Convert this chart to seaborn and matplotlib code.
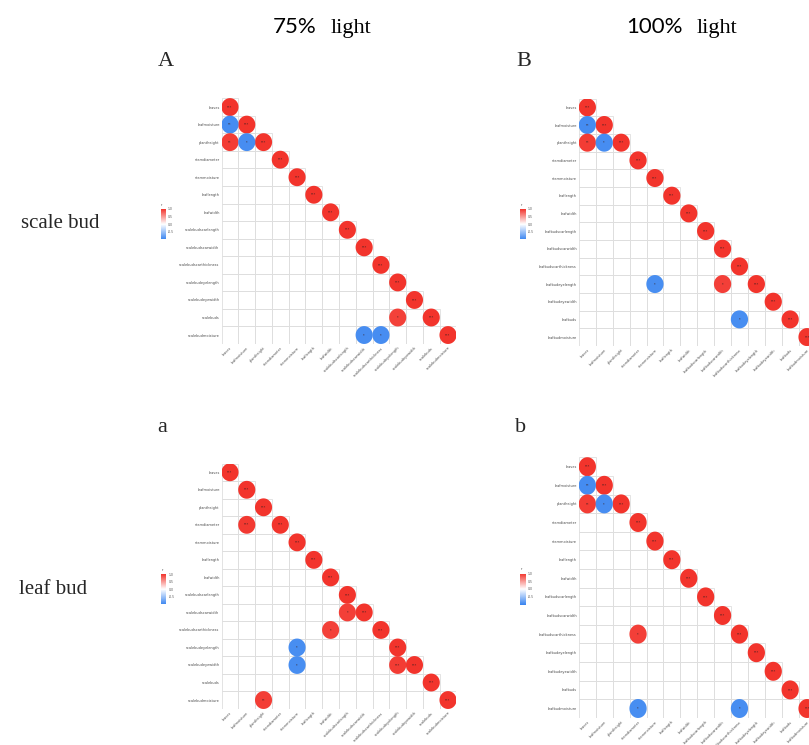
import numpy as np
import pandas as pd
import matplotlib
matplotlib.use("Agg")
import matplotlib.pyplot as plt
from matplotlib.colors import LinearSegmentedColormap, Normalize
from matplotlib.cm import ScalarMappable
from matplotlib.markers import MarkerStyle
from matplotlib.patches import Rectangle
from matplotlib.path import Path
import seaborn as sns

sns.set_theme(style="white")

# ---------------------------------------------------------------- data
common_traits = ["leaves", "leafmoisture", "plantheight", "stemdiameter",
                 "stemmoisture", "leaflength", "leafwidth"]
scale_traits = common_traits + ["scalebudscarlength", "scalebudscarwidth",
                                "scalebudscarthickness", "scalebudeyelength",
                                "scalebudeyewidth", "scalebuds", "scalebudmoisture"]
leaf_traits = common_traits + ["leafbudscarlength", "leafbudscarwidth",
                               "leafbudscarthickness", "leafbudeyelength",
                               "leafbudeyewidth", "leafbuds", "leafbudmoisture"]

# significant off-diagonal correlations: row index, column index, r, stars
A_rows = [1, 2, 2, 12, 13, 13]
A_cols = [0, 0, 1, 10, 8, 9]
A_r = [-0.95, 0.96, -0.94, 0.93, -0.94, -0.94]
A_sig = ["**", "**", "*", "*", "*", "*"]

B_rows = [1, 2, 2, 10, 10, 12]
B_cols = [0, 0, 1, 4, 8, 9]
B_r = [-0.95, 0.96, -0.94, -0.93, 0.94, -0.93]
B_sig = ["**", "**", "*", "*", "*", "*"]

a_rows = [3, 8, 9, 10, 11, 11, 13]
a_cols = [1, 7, 6, 4, 4, 10, 2]
a_r = [0.97, 0.94, 0.93, -0.93, -0.93, 0.96, 0.95]
a_sig = ["***", "*", "*", "*", "*", "***", "**"]

b_rows = [1, 2, 2, 9, 13, 13]
b_cols = [0, 0, 1, 3, 3, 9]
b_r = [-0.95, 0.96, -0.94, 0.94, -0.93, -0.93]
b_sig = ["**", "**", "*", "*", "*", "*"]

diag_r = 1.0
diag_sig = "***"

cbar_ticks = [-0.5, 0.0, 0.5, 1.0]
cbar_ticklabels = ["-0.5", "0.0", "0.5", "1.0"]

# ---------------------------------------------------------------- style
W, H, DPI = 809, 745, 100
cmap = LinearSegmentedColormap.from_list("rwb", ["#3c86f0", "#ffffff", "#f2342c"])
norm = Normalize(vmin=-1, vmax=1)
grid_color = "#dedede"
label_color = "#4a4a4a"
serif = ["Liberation Serif", "DejaVu Serif"]
sans = ["Lato", "DejaVu Sans"]

fig = plt.figure(figsize=(W / DPI, H / DPI), dpi=DPI)
fig.patch.set_facecolor("white")


def px_axes(left, top, right, bottom):
    return fig.add_axes([left / W, 1 - bottom / H, (right - left) / W, (bottom - top) / H])


def ellipse_marker(aspect):
    t = np.linspace(0, 2 * np.pi, 80)
    verts = np.column_stack([np.cos(t), aspect * np.sin(t)])
    return MarkerStyle(Path(verts, closed=True))


def corr_panel(box, traits, rows, cols, rvals, sigs, cbar_box):
    ax = px_axes(*box)
    n = len(traits)
    df = pd.DataFrame({
        "row": list(range(n)) + rows,
        "col": list(range(n)) + cols,
        "r": [diag_r] * n + rvals,
        "sig": [diag_sig] * n + sigs,
    })

    # lower-triangle cell grid
    for i in range(n):
        for j in range(i + 1):
            ax.add_patch(Rectangle((j - 0.5, i - 0.5), 1, 1, fill=False,
                                   edgecolor=grid_color, linewidth=0.6, zorder=1))

    cell_w = (box[2] - box[0]) / n
    cell_h = (box[3] - box[1]) / n
    aspect = cell_h / cell_w
    diam_pt = max(cell_w, cell_h) * 1.02 * 72 / DPI
    sns.scatterplot(data=df, x="col", y="row", hue="r", palette=cmap, hue_norm=norm,
                    marker=ellipse_marker(aspect), s=diam_pt ** 2, linewidth=0,
                    legend=False, ax=ax, zorder=3)
    for _, rec in df.iterrows():
        ax.text(rec["col"], rec["row"], rec["sig"], ha="center", va="center",
                fontsize=2.4, color="#3a2020", zorder=4)

    ax.set_xlim(-0.5, n - 0.5)
    ax.set_ylim(n - 0.5, -0.5)
    ax.set_xlabel("")
    ax.set_ylabel("")
    for s in ax.spines.values():
        s.set_visible(False)
    ax.set_facecolor("none")
    ax.set_yticks(range(n))
    ax.set_yticklabels(traits, fontsize=2.5, color=label_color)
    ax.set_xticks(range(n))
    ax.set_xticklabels(traits, fontsize=2.5, color=label_color, rotation=45,
                       ha="right", rotation_mode="anchor")
    ax.tick_params(axis="both", length=0, pad=1.5)

    # colour bar
    cl, ct, cw, ch = cbar_box
    cax = px_axes(cl, ct, cl + cw, ct + ch)
    cb = fig.colorbar(ScalarMappable(norm=norm, cmap=cmap), cax=cax)
    cb.outline.set_visible(False)
    cb.set_ticks(cbar_ticks)
    cb.set_ticklabels(cbar_ticklabels)
    cax.tick_params(labelsize=2.2, length=0, pad=1.5, colors=label_color)
    fig.text((cl + 0.5) / W, 1 - (ct - 2) / H, "r", fontsize=2.4,
             color=label_color, ha="left", va="bottom")
    return ax


corr_panel((221.6, 98.3, 456.4, 343.8), scale_traits, A_rows, A_cols, A_r, A_sig,
           (160.5, 209, 5.5, 30.3))
corr_panel((578.9, 98.5, 815.5, 345.9), leaf_traits, B_rows, B_cols, B_r, B_sig,
           (520.0, 209, 6.0, 30.3))
corr_panel((221.6, 463.5, 456.4, 708.8), scale_traits, a_rows, a_cols, a_r, a_sig,
           (161.0, 574, 5.5, 30.3))
corr_panel((578.9, 457.4, 815.5, 717.8), leaf_traits, b_rows, b_cols, b_r, b_sig,
           (520.0, 573.5, 6.0, 31.0))


def ftext(x, y, s, **kw):
    fig.text(x / W, 1 - y / H, s, **kw)


# column headings
for pct, xr, xl in [("75%", 317, 331), ("100%", 683, 697)]:
    ftext(xr, 33, pct, fontsize=16, family=sans, ha="right", va="baseline", color="black")
    ftext(xl, 33, "light", fontsize=16, family=serif, ha="left", va="baseline", color="black")

# panel letters
ftext(158, 66, "A", fontsize=16, family=serif, ha="left", va="baseline")
ftext(516, 66, "B", fontsize=16, family=serif, ha="left", va="baseline")
ftext(157, 432, "a", fontsize=16, family=serif, ha="left", va="baseline")
ftext(515, 432, "b", fontsize=16, family=serif, ha="left", va="baseline")

# row headings
ftext(60, 224, "scale bud", fontsize=15, family=serif, ha="center", va="center")
ftext(53, 590, "leaf bud", fontsize=15, family=serif, ha="center", va="center")

fig.savefig("out.png", dpi=DPI, facecolor="white")
